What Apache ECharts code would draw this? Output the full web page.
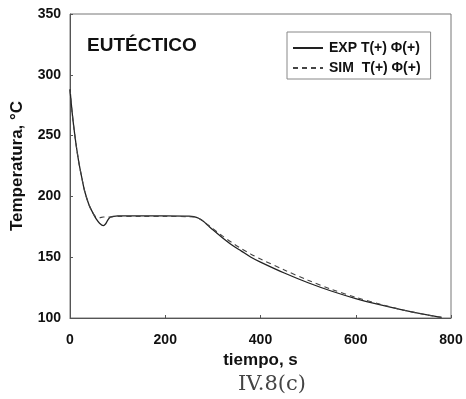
<!DOCTYPE html>
<html>
<head>
<meta charset="utf-8">
<script src="https://cdn.jsdelivr.net/npm/echarts@6/dist/echarts.min.js"></script>
<style>
html,body{margin:0;padding:0;background:#fff;}
#main{width:466px;height:399px;}
</style>
</head>
<body>
<div id="main"></div>
<script>
var chart = echarts.init(document.getElementById('main'));

// tiempo, s
var tiempo = [0,4,8,13,19,25,31,40,50,55,62,70,75,80,85,90,100,150,200,250,260,270,280,290,300,320,340,360,380,400,450,500,550,600,650,700,750,780];
// EXP T(+) Phi(+)
var expT = [288,271,257,242,227,215,204,193,185,181.5,178,176,177.5,181,183,183.5,184,184,184,183.8,183.3,182,179.5,176,172.5,166,160,155,150,146,137,129,122,116,111,106.5,102.5,100.5];
// SIM T(+) Phi(+)
var simT = [288,271,257,242,227,215,204,193,185,183,182.5,183,183,183,183,183.3,183.5,183.5,183.5,183.3,183,182,179.5,176.5,173.5,167.5,162,157,152.5,148.5,139.5,131,123.5,117,111.5,106.5,102.5,100.5];
var serieNames = ['EXP T(+) \u03A6(+)', 'SIM  T(+) \u03A6(+)'];

function pares(ys){
	var out = [];
	for (var i = 0; i < tiempo.length; i++) out.push([tiempo[i], ys[i]]);
	return out;
}

var fuente = '"Liberation Sans", Arial, sans-serif';

chart.setOption({
	animation: false,
	grid: {left: 70, right: 15, top: 14, bottom: 81, show: true, borderColor: '#777', borderWidth: 1},
	legend: {
		orient: 'vertical',
		left: 287, top: 32,
		padding: [9, 10, 4, 5],
		itemGap: 6,
		itemWidth: 30, itemHeight: 14,
		borderColor: '#888', borderWidth: 1,
		itemStyle: {opacity: 0},
		textStyle: {fontFamily: fuente, fontSize: 14, color: '#111', fontWeight: 'bold', padding: [0, 0, 0, 1]},
		data: serieNames
	},
	graphic: [
		{type: 'text', x: 87, y: 46, style: {text: 'EUTÉCTICO', font: 'bold 19px "Liberation Sans", Arial, sans-serif', fill: '#111', verticalAlign: 'middle'}},
		{type: 'text', x: 272, y: 385, style: {text: 'IV.8(c)', font: '21px "DejaVu Serif", "Liberation Serif", serif', fill: '#444', align: 'center', verticalAlign: 'middle'}}
	],
	xAxis: {
		type: 'value', min: 0, max: 800, interval: 200,
		name: 'tiempo, s', nameLocation: 'middle', nameGap: 30,
		nameTextStyle: {fontFamily: fuente, fontSize: 17, fontWeight: 'bold', color: '#111'},
		axisLine: {lineStyle: {color: '#555'}},
		axisTick: {inside: true, length: 3, lineStyle: {color: '#555'}},
		axisLabel: {margin: 15, fontFamily: fuente, fontSize: 14, fontWeight: 'bold', color: '#111'},
		splitLine: {show: false}
	},
	yAxis: {
		type: 'value', min: 100, max: 350, interval: 50,
		name: 'Temperatura, °C', nameLocation: 'middle', nameGap: 44,
		nameTextStyle: {fontFamily: fuente, fontSize: 17, fontWeight: 'bold', color: '#111'},
		axisLine: {show: true, lineStyle: {color: '#555'}},
		axisTick: {show: true, inside: true, length: 3, lineStyle: {color: '#555'}},
		axisLabel: {margin: 9, fontFamily: fuente, fontSize: 14, fontWeight: 'bold', color: '#111'},
		splitLine: {show: false}
	},
	series: [
		{name: serieNames[0], type: 'line', data: pares(expT), smooth: 0.3, symbol: 'none',
			lineStyle: {color: '#222', width: 1.3}, itemStyle: {color: '#222'}},
		{name: serieNames[1], type: 'line', data: pares(simT), smooth: 0.3, symbol: 'none',
			lineStyle: {color: '#444', width: 1.1, type: [5, 4]}, itemStyle: {color: '#444'}}
	]
});
</script>
</body>
</html>
